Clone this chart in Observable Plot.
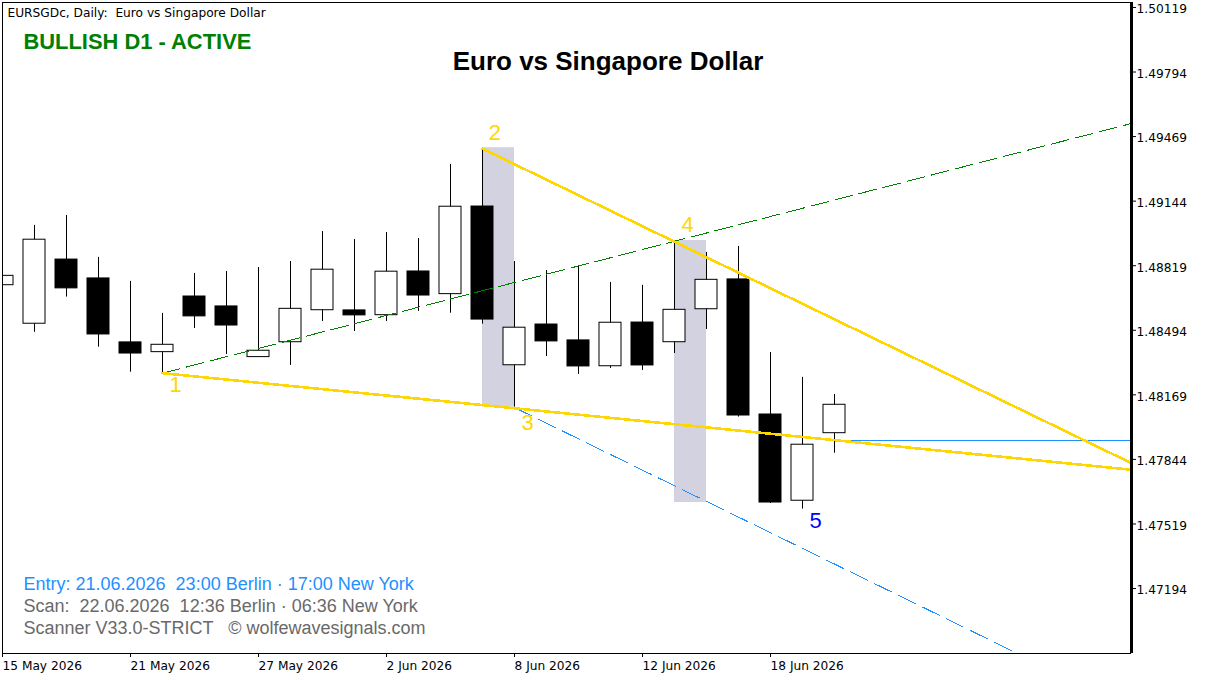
<!DOCTYPE html>
<html>
<head>
<meta charset="utf-8">
<script src="https://cdn.jsdelivr.net/npm/d3@7"></script>
<script src="https://cdn.jsdelivr.net/npm/@observablehq/plot@0.6"></script>
<style>
html,body{margin:0;padding:0;background:#fff;overflow:hidden}
svg{display:block}
svg text{white-space:pre}
</style>
</head>
<body>
<div id="chart"></div>
<script>
// Daily sessions, bar index 0..26
const dates = ["15 May 2026","18 May 2026","19 May 2026","20 May 2026","21 May 2026","22 May 2026","25 May 2026","26 May 2026","27 May 2026","28 May 2026","29 May 2026","1 Jun 2026","2 Jun 2026","3 Jun 2026","4 Jun 2026","5 Jun 2026","8 Jun 2026","9 Jun 2026","10 Jun 2026","11 Jun 2026","12 Jun 2026","15 Jun 2026","16 Jun 2026","17 Jun 2026","18 Jun 2026","19 Jun 2026","22 Jun 2026"];
const opens  = [1.48726,1.48532,1.48855,1.48760,1.48438,1.48389,1.48669,1.48619,1.48364,1.48439,1.48600,1.48599,1.48575,1.48795,1.48681,1.49122,1.48323,1.48528,1.48448,1.48318,1.48538,1.48439,1.48605,1.48755,1.48075,1.47641,1.47981];
const closes = [1.48773,1.48955,1.48710,1.48478,1.48382,1.48426,1.48569,1.48523,1.48396,1.48607,1.48804,1.48574,1.48794,1.48674,1.49121,1.48553,1.48512,1.48443,1.48317,1.48537,1.48322,1.48602,1.48753,1.48070,1.47632,1.47923,1.48124];
const highs  = [1.48800,1.49027,1.49077,1.48866,1.48745,1.48584,1.48785,1.48795,1.48815,1.48845,1.48996,1.48956,1.48991,1.48961,1.49334,1.49413,1.48845,1.48800,1.48825,1.48740,1.48725,1.48951,1.48891,1.48921,1.48387,1.48262,1.48176];
const lows   = [1.48700,1.48489,1.48666,1.48414,1.48288,1.48283,1.48508,1.48377,1.48364,1.48322,1.48543,1.48493,1.48543,1.48594,1.48585,1.48530,1.48112,1.48367,1.48277,1.48307,1.48297,1.48382,1.48503,1.48062,1.47627,1.47599,1.47880];

const priceTicks = [1.50119,1.49794,1.49469,1.49144,1.48819,1.48494,1.48169,1.47844,1.47519,1.47194];
const dateTicks = [0,4,8,12,16,20,24];
const xDomain = [0,35.28125];
const yDomain = [1.46872,1.50149];

// Wolfe wave lines: [bar index, price]
const upperWedge = [[15,1.49413],[35.28,1.47830]];
const lowerWedge = [[5,1.48283],[35.28,1.47797]];
const targetLine = [[5,1.48283],[35.28,1.49540]];
const stopLine   = [[16,1.48110],[31.59,1.46882]];
const entryLine  = [[26,1.47943],[35.28,1.47943]];
// Highlight zones: [first bar, last bar, low, high]
const zones = [[15,16,1.48112,1.49418],[21,22,1.47632,1.48951]];
// Point labels
const pointNames = ["1","2","3","4","5"];
const pointBars  = [5.41,15.39,16.41,21.41,25.41];
const pointPrices= [1.48226,1.49490,1.48035,1.49027,1.47537];
const pointColors= ["#FFD700","#FFD700","#FFD700","#FFD700","#0000FF"];

const headerText = "EURSGDc, Daily:  Euro vs Singapore Dollar";
const statusText = "BULLISH D1 - ACTIVE";
const titleText  = "Euro vs Singapore Dollar";
const entryText  = "Entry: 21.06.2026  23:00 Berlin · 17:00 New York";
const scanText   = "Scan:  22.06.2026  12:36 Berlin · 06:36 New York";
const creditText = "Scanner V33.0-STRICT   © wolfewavesignals.com";

const bars = dates.map((d,i)=>({i,open:opens[i],close:closes[i],high:highs[i],low:lows[i]}));
const halfBody = 11/32;
const sans = "Liberation Sans";
const tahoma = "DejaVu Sans";
const caption = (t,fill,fontSize,fontWeight,dx,dy,textAnchor="start") =>
  Plot.text([t],{text:d=>d,frameAnchor:"top-left",dx,dy,lineAnchor:"middle",textAnchor,fill,fontSize,fontWeight,fontFamily:sans});
const seg = (pts,o) => Plot.line(pts,{x:d=>d[0],y:d=>d[1],clip:true,shapeRendering:"crispEdges",...o});

const chart = Plot.plot({
  width:1209,height:680,
  marginLeft:2,marginRight:78,marginTop:2,marginBottom:27,
  style:{background:"#fff",color:"#000"},
  x:{domain:xDomain,axis:null},
  y:{domain:yDomain,axis:null},
  marks:[
    Plot.rect(zones,{x1:d=>d[0],x2:d=>d[1],y1:d=>d[2],y2:d=>d[3],fill:"#d2d2e0",clip:true}),
    Plot.ruleX(bars,{x:"i",y1:"low",y2:"high",stroke:"#000",strokeWidth:1,clip:true}),
    Plot.rect(bars,{x1:d=>d.i-halfBody,x2:d=>d.i+halfBody,y1:"open",y2:"close",
      fill:d=>d.close>=d.open?"#fff":"#000",stroke:"#000",strokeWidth:1,clip:true}),
    seg(targetLine,{stroke:"#008000",strokeWidth:1,strokeDasharray:"18 6.8"}),
    seg(stopLine,{stroke:"#1E90FF",strokeWidth:1,strokeDasharray:"18.9 7.8"}),
    seg(entryLine,{stroke:"#1E90FF",strokeWidth:1}),
    seg(upperWedge,{stroke:"#FFD700",strokeWidth:2.6}),
    seg(lowerWedge,{stroke:"#FFD700",strokeWidth:2.6}),
    Plot.ruleX([xDomain[0]],{stroke:"#000",strokeWidth:1}),
    Plot.ruleX([xDomain[1]],{stroke:"#000",strokeWidth:3}),
    Plot.ruleY([yDomain[0]],{stroke:"#000",strokeWidth:1}),
    Plot.ruleY([yDomain[1]],{stroke:"#000",strokeWidth:1}),
    Plot.axisY({anchor:"right",ticks:priceTicks,tickSize:4,text:null,dy:-1,label:null}),
    Plot.axisY({anchor:"right",ticks:priceTicks,tickFormat:d=>d.toFixed(5),tickSize:0,tickPadding:5,dy:1,label:null,fontSize:12.2,fontFamily:tahoma}),
    Plot.axisX({anchor:"bottom",ticks:dateTicks,tickFormat:i=>dates[i],tickSize:4,tickPadding:4,label:null,textAnchor:"start",fontSize:12.2,fontFamily:tahoma}),
    Plot.text(pointNames,{text:d=>d,x:(d,i)=>pointBars[i],y:(d,i)=>pointPrices[i],fill:(d,i)=>pointColors[i],fontSize:22,fontFamily:sans}),
    Plot.text([headerText],{text:d=>d,frameAnchor:"top-left",dx:5,dy:11,lineAnchor:"middle",fill:"#000",fontSize:12.2,fontFamily:tahoma}),
    caption(statusText,"#008000",21.9,"bold",21,39),
    caption(titleText,"#000",26,"bold",605.5,59,"middle"),
    caption(entryText,"#1E90FF",18,"normal",21,582),
    caption(scanText,"#696969",18,"normal",21,604),
    caption(creditText,"#696969",18,"normal",21,626)
  ]
});
document.getElementById("chart").appendChild(chart);
</script>
</body>
</html>
